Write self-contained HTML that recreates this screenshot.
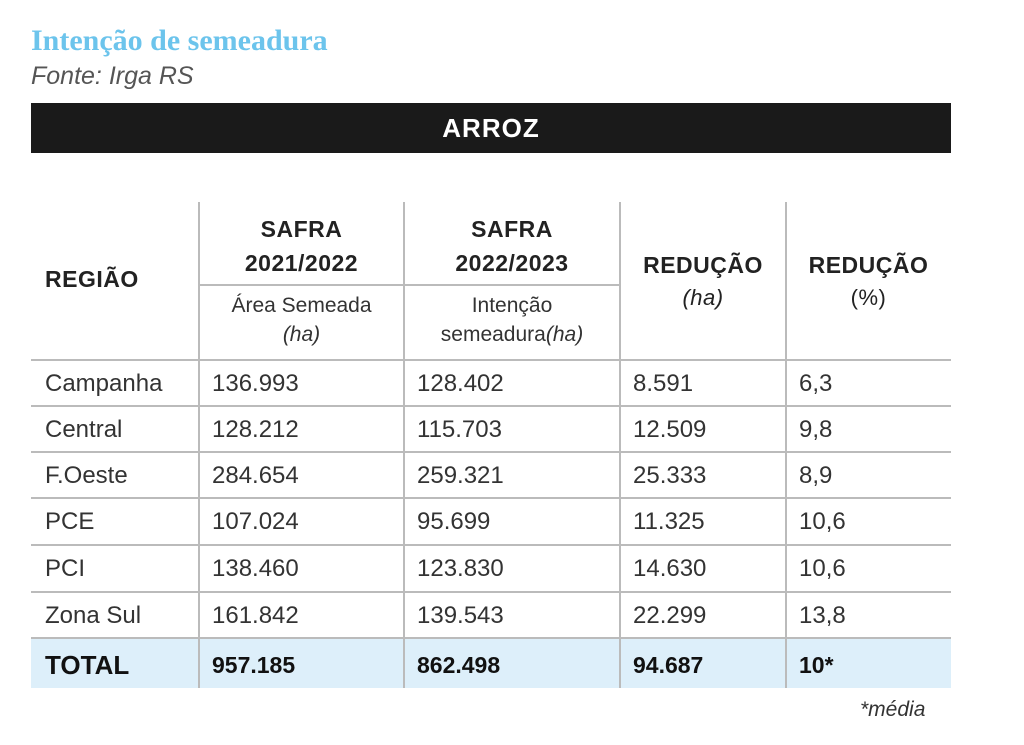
<!DOCTYPE html>
<html><head><meta charset="utf-8"><style>
body{margin:0;width:1024px;height:745px;background:#fff;position:relative;overflow:hidden;font-family:"Liberation Sans",sans-serif;color:#222}
.a{position:absolute}
.vl{position:absolute;top:202px;width:1.5px;background:#bbb;height:486px}
.hl{position:absolute;left:31px;width:920px;height:1.5px;background:#bbb}
.h{font-weight:bold;font-size:23px;text-align:center;letter-spacing:0.5px}
.s{font-size:21px;text-align:center;color:#333;line-height:29px}
.c{position:absolute;font-size:24px;color:#333;line-height:46px}
</style></head><body>
<div class="a" style="left:31px;top:24px;font-family:'Liberation Serif',serif;font-weight:bold;font-size:30px;color:#6cc4ec">Intenção de semeadura</div>
<div class="a" style="left:31px;top:62px;font-style:italic;font-size:25px;color:#555">Fonte: Irga RS</div>
<div class="a" style="left:31px;top:103px;width:920px;height:50px;background:#1a1a1a;color:#fff;font-weight:bold;font-size:26px;text-align:center;line-height:50px;letter-spacing:1px">ARROZ</div>
<div class="a" style="left:31px;top:639px;width:920px;height:49px;background:#ddeffa"></div>
<div class="vl" style="left:198px"></div><div class="vl" style="left:403px"></div><div class="vl" style="left:619px"></div><div class="vl" style="left:785px"></div>
<div class="a" style="left:199px;top:284px;width:421px;height:1.5px;background:#bbb"></div>
<div class="hl" style="top:359px"></div><div class="hl" style="top:405px"></div><div class="hl" style="top:451px"></div><div class="hl" style="top:497px"></div><div class="hl" style="top:544px"></div><div class="hl" style="top:591px"></div><div class="hl" style="top:637px"></div>
<div class="a h" style="left:45px;top:266px;text-align:left">REGIÃO</div>
<div class="a h" style="left:199px;top:212px;width:205px;line-height:34px">SAFRA<br>2021/2022</div>
<div class="a h" style="left:404px;top:212px;width:216px;line-height:34px">SAFRA<br>2022/2023</div>
<div class="a s" style="left:199px;top:291px;width:205px">Área Semeada<br><i>(ha)</i></div>
<div class="a s" style="left:404px;top:291px;width:216px">Intenção<br>semeadura<i>(ha)</i></div>
<div class="a h" style="left:620px;top:249px;width:166px;line-height:32px">REDUÇÃO<br><span style="font-weight:normal;font-style:italic;font-size:22px">(ha)</span></div>
<div class="a h" style="left:786px;top:249px;width:165px;line-height:32px">REDUÇÃO<br><span style="font-weight:normal;font-size:22px">(%)</span></div>
<div id="rows"></div>
<div class="a" style="left:860px;top:698px;font-style:italic;font-size:21px;color:#333">*média</div>
<script>
const regions=["Campanha","Central","F.Oeste","PCE","PCI","Zona Sul","TOTAL"];
const area2122=["136.993","128.212","284.654","107.024","138.460","161.842","957.185"];
const int2223=["128.402","115.703","259.321","95.699","123.830","139.543","862.498"];
const redHa=["8.591","12.509","25.333","11.325","14.630","22.299","94.687"];
const redPct=["6,3","9,8","8,9","10,6","10,6","13,8","10*"];
const xs=[45,212,417,633,799];
const tops=[360,406,452,498,545,592,639];
const cols=[regions,area2122,int2223,redHa,redPct];
const root=document.getElementById('rows');
tops.forEach((t,i)=>{cols.forEach((col,j)=>{
const d=document.createElement('div');
d.className='c';


d.style.left=xs[j]+'px';d.style.top=(t+1)+'px';
if(i===6){d.style.fontWeight='bold';d.style.color='#111';d.style.fontSize=j===0?'26px':'23px';d.style.lineHeight='50px';}
d.textContent=col[i];root.appendChild(d);});});
</script>
</body></html>
